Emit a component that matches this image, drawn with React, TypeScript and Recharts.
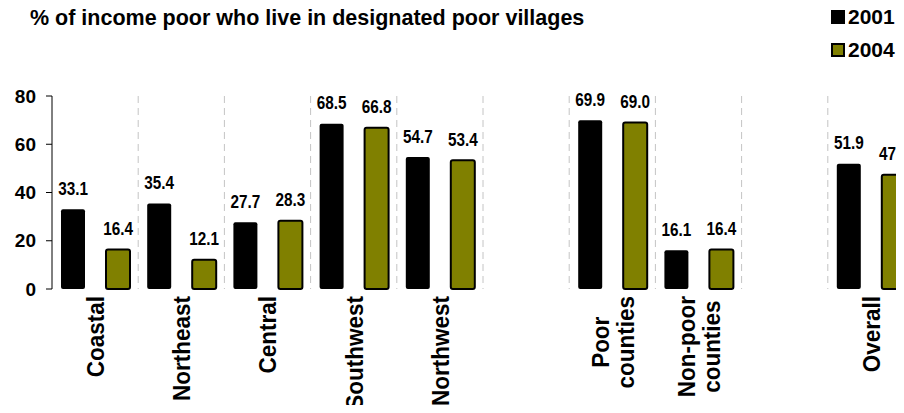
import React from 'react';
import { BarChart, Bar, XAxis, YAxis, CartesianGrid, LabelList, Legend } from 'recharts';

const categories = ['Coastal', 'Northeast', 'Central', 'Southwest', 'Northwest', '', 'Poor counties', 'Non-poor counties', '', 'Overall'];
const values2001: (number | null)[] = [33.1, 35.4, 27.7, 68.5, 54.7, null, 69.9, 16.1, null, 51.9];
const values2004: (number | null)[] = [16.4, 12.1, 28.3, 66.8, 53.4, null, 69.0, 16.4, null, 47.4];
const yTicks = [0, 20, 40, 60, 80];
const seriesNames = ['2001', '2004'];
const titleText = '% of income poor who live in designated poor villages';

const data = categories.map((name, i) => ({ name, s2001: values2001[i], s2004: values2004[i] }));

const FONT = 'Arial, "Liberation Sans", Helvetica, sans-serif';
const OLIVE = '#808000';
const seriesFill = ['#000000', OLIVE];
const seriesStroke = ['#000000', '#000000'];
const seriesStrokeWidth = [0, 2];

let ctx: CanvasRenderingContext2D | null = null;
function measure(text: string, font: string): number {
  if (!ctx) {
    const c = document.createElement('canvas');
    ctx = c.getContext('2d');
  }
  if (!ctx) return text.length * 12;
  ctx.font = font;
  return ctx.measureText(text).width;
}

const CAT_FS = 22.5;

const CategoryTick = (props: any) => {
  const { x, y, payload } = props;
  const value: string = payload && payload.value;
  if (!value) return null;
  const lines = value.split(' ');
  const font = `bold ${CAT_FS}px ${FONT}`;
  const maxW = Math.max(...lines.map((l) => measure(l, font)));
  const lh = 25;
  const top = y + 7;
  const center = top + maxW / 2;
  return (
    <g>
      {lines.map((l, i) => {
        const dx = (i - (lines.length - 1) / 2) * lh;
        return (
          <text
            key={i}
            transform={`translate(${x + dx},${center}) rotate(-90) scale(1,1.1)`}
            textAnchor="middle"
            dy="0.36em"
            fontFamily={FONT}
            fontWeight="bold"
            fontSize={CAT_FS}
            fill="#000"
          >
            {l}
          </text>
        );
      })}
    </g>
  );
};

const ValueLabel = (props: any) => {
  const { x, y, width, value } = props;
  if (value === null || value === undefined) return null;
  const cx = Number(x) + Number(width) / 2;
  return (
    <text
      transform={`translate(${cx},${Number(y) - 14.5}) scale(0.85,1)`}
      textAnchor="middle"
      fontFamily={FONT}
      fontWeight="bold"
      fontSize={18}
      fill="#000"
    >
      {Number(value).toFixed(1)}
    </text>
  );
};

const renderLegend = (props: any) => {
  const { payload } = props;
  return (
    <div>
      {(payload || []).map((entry: any, i: number) => (
        <div key={i} style={{ display: 'flex', alignItems: 'center', height: 14, marginBottom: 19 }}>
          <span
            style={{
              display: 'inline-block',
              width: 14,
              height: 14,
              boxSizing: 'border-box',
              background: seriesFill[i],
              border: seriesStrokeWidth[i] ? `2px solid ${seriesStroke[i]}` : 'none',
              marginRight: 3,
            }}
          />
          <span style={{ fontFamily: FONT, fontWeight: 'bold', fontSize: 21, lineHeight: '14px', color: '#000' }}>
            {entry.value}
          </span>
        </div>
      ))}
    </div>
  );
};

export default function App() {
  return (
    <div style={{ position: 'relative', width: 896, height: 405, overflow: 'hidden', marginBottom: -8 }}>
      <div
        style={{
          position: 'absolute',
          left: 22,
          top: -2.5,
          fontFamily: FONT,
          fontWeight: 'bold',
          fontSize: 21.5,
          lineHeight: '24px',
          color: '#000',
          whiteSpace: 'nowrap',
          zIndex: 2,
        }}
      >
        {titleText}
      </div>
      <BarChart
        width={906}
        height={405}
        data={data}
        margin={{ top: 88, right: 0, bottom: 0, left: 0 }}
        barCategoryGap={9}
        barGap={21}
      >
        <CartesianGrid
          horizontal={false}
          vertical={true}
          stroke="#c4c4c4"
          strokeDasharray="7 5"
          verticalCoordinatesGenerator={({ offset }: any) => {
            const n = categories.length;
            const pts: number[] = [];
            for (let i = 1; i <= n; i++) pts.push(offset.left + (i * offset.width) / n);
            return pts;
          }}
        />
        <XAxis
          dataKey="name"
          interval={0}
          axisLine={false}
          tickLine={false}
          tickSize={0}
          tickMargin={0}
          height={124}
          tick={<CategoryTick />}
        />
        <YAxis
          domain={[0, 80]}
          ticks={yTicks}
          width={44}
          axisLine={{ stroke: '#000', strokeWidth: 1 }}
          tickLine={{ stroke: '#000', strokeWidth: 1 }}
          tickSize={6}
          tickMargin={10}
          tick={{ fontFamily: FONT, fontWeight: 'bold', fontSize: 19, fill: '#000' }}
        />
        <Legend
          layout="horizontal"
          verticalAlign="middle"
          align="center"
          content={renderLegend}
          wrapperStyle={{ position: 'absolute', left: 823, top: 2, width: 80 }}
        />
        <Bar
          dataKey="s2001"
          name={seriesNames[0]}
          fill={seriesFill[0]}
          radius={2}
          isAnimationActive={false}
        >
          <LabelList dataKey="s2001" content={<ValueLabel />} />
        </Bar>
        <Bar
          dataKey="s2004"
          name={seriesNames[1]}
          fill={seriesFill[1]}
          stroke={seriesStroke[1]}
          strokeWidth={seriesStrokeWidth[1]}
          radius={2}
          isAnimationActive={false}
        >
          <LabelList dataKey="s2004" content={<ValueLabel />} />
        </Bar>
      </BarChart>
    </div>
  );
}
